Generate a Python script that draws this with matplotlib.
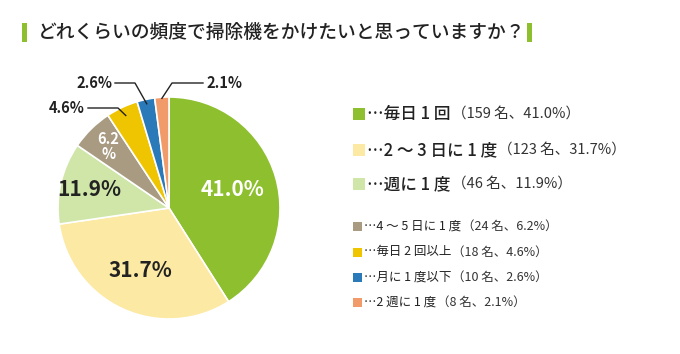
import numpy as np
import matplotlib
matplotlib.use("Agg")
import matplotlib.pyplot as plt

plt.rcParams['font.family'] = ['Noto Sans CJK JP', 'DejaVu Sans']

title = "どれくらいの頻度で掃除機をかけたいと思っていますか？"
labels = ["毎日 1 回", "2 ～ 3 日に 1 度", "週に 1 度", "4 ～ 5 日に 1 度", "毎日 2 回以上", "月に 1 度以下", "2 週に 1 度"]
counts = [159, 123, 46, 24, 18, 10, 8]
pcts = [41.0, 31.7, 11.9, 6.2, 4.6, 2.6, 2.1]
colors = ["#8dbf2e", "#fce9a3", "#cfe6a8", "#a99a82", "#efc400", "#2a79b8", "#f19a6a"]

W, H = 680, 354
fig = plt.figure(figsize=(W / 100, H / 100), dpi=100)
ax = fig.add_axes([0, 0, 1, 1])

def Y(py):
    return H - py

cx, cy, R = 169, 208, 111
ax.pie(counts, colors=colors, startangle=90, counterclock=False,
       center=(cx, Y(cy)), radius=R,
       wedgeprops=dict(edgecolor="white", linewidth=1.2))
ax.set_xlim(0, W)
ax.set_ylim(0, H)
ax.set_aspect("equal")
ax.axis("off")

# mid angle (clockwise from top) of each wedge
frac = np.array(counts) / sum(counts)
mids = (np.cumsum(frac) - frac / 2) * 360

def pt(i, rf):
    a = np.radians(mids[i])
    return cx + rf * R * np.sin(a), cy - rf * R * np.cos(a)

# inside labels
inside = [(0, 0.60, "white", 15), (1, 0.62, "#222222", 15), (2, 0.74, "#222222", 15)]
for i, rf, c, fs in inside:
    x, y = pt(i, rf)
    ax.text(x, Y(y), f"{pcts[i]:.1f}%", color=c, fontsize=fs, fontweight="bold",
            ha="center", va="center")
x, y = pt(3, 0.78)
ax.text(x, Y(y), f"{pcts[3]:.1f}\n%", color="white", fontsize=10.5, fontweight="bold",
        ha="center", va="center", linespacing=0.95)

# outside labels with leader lines
def leader(i, rf, elbow, text_xy, ha):
    ex, ey = pt(i, rf)
    xs = [text_xy[0] + (3 if ha == "right" else -3), elbow[0], ex]
    ys = [Y(text_xy[1]), Y(elbow[1]), Y(ey)]
    ax.plot(xs, ys, color="#222222", lw=1)
    ax.text(text_xy[0], Y(text_xy[1]), f"{pcts[i]:.1f}%", fontsize=10.5, fontweight="bold",
            color="#222222", ha=ha, va="center")

leader(4, 0.92, (118, 108), (85, 108), "right")
leader(5, 0.96, (135, 83), (112, 83), "right")
leader(6, 0.99, (172, 83), (206, 83), "left")

# title
ax.add_patch(plt.Rectangle((22, Y(42)), 5, 19, color="#8dbf2e", lw=0))
ax.add_patch(plt.Rectangle((527, Y(42)), 5, 19, color="#8dbf2e", lw=0))
ax.text(38, Y(32), title, fontsize=13.5, fontweight="medium", color="#222222",
        ha="left", va="center")

# legend
fig.canvas.draw()
r = fig.canvas.get_renderer()

def legend_item(i, y, sq, fs1, fs2, w1):
    ax.add_patch(plt.Rectangle((353, Y(y) - sq / 2), sq, sq, color=colors[i], lw=0))
    t = ax.text(353 + sq + 2, Y(y), "…" + labels[i], fontsize=fs1, fontweight=w1,
                color="#222222", ha="left", va="center")
    bb = t.get_window_extent(renderer=r)
    ax.text(bb.x1 + 1, Y(y), f"（{counts[i]} 名、{pcts[i]:.1f}%）", fontsize=fs2,
            color="#333333", ha="left", va="center")

for i, y in zip(range(3), [114, 150, 184]):
    legend_item(i, y, 12, 12, 10.5, "medium")
for i, y in zip(range(3, 7), [226, 252, 277, 302]):
    legend_item(i, y, 9, 9, 9, "normal")

fig.savefig("out.png", dpi=100, facecolor="white")
